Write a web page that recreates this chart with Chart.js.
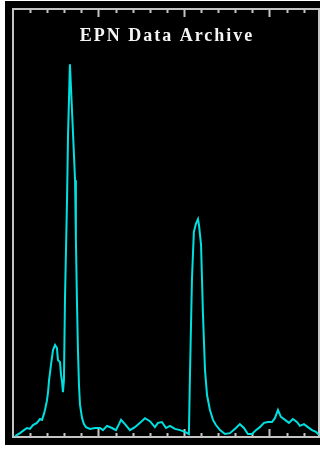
<!DOCTYPE html>
<html>
<head>
<meta charset="utf-8">
<script src="https://cdn.jsdelivr.net/npm/chart.js@4/dist/chart.umd.min.js"></script>
<style>
  html, body { margin: 0; padding: 0; background: #ffffff; }
  #wrap { position: absolute; left: 5px; top: 1px; width: 315px; height: 444px; background: #000000; }
  canvas { display: block; }
</style>
</head>
<body>
<div id="wrap"><canvas id="c" width="315" height="444"></canvas></div>
<script>
// Spectrum: channel position and counts (percent of full scale)
const channel = [
  0.12, 0.41, 0.64, 0.82, 0.99, 1.17, 1.40, 1.58, 1.70, 1.81, 1.87, 1.99, 2.05, 2.11, 2.22, 2.34,
  2.46, 2.57, 2.63, 2.75, 2.81, 2.87, 2.92, 2.98, 3.04, 3.16, 3.22, 3.33, 3.39, 3.51, 3.63, 3.68,
  3.74, 3.80, 3.86, 3.92, 4.04, 4.15, 4.27, 4.50, 4.80, 5.09, 5.26, 5.50, 5.79, 6.02, 6.20, 6.32,
  6.55, 6.84, 7.13, 7.43, 7.72, 8.01, 8.30, 8.48, 8.71, 8.95, 9.18, 9.47, 9.77, 10.06, 10.29, 10.35,
  10.47, 10.58, 10.70, 10.82, 10.88, 11.00, 11.11, 11.23, 11.35, 11.52, 11.70, 11.87, 12.11, 12.40, 12.69, 13.04,
  13.27, 13.51, 13.74, 13.98, 14.21, 14.44, 14.68, 14.91, 15.15, 15.32, 15.50, 15.67, 15.91, 16.14, 16.37, 16.61,
  16.78, 17.02, 17.25, 17.49, 17.72, 17.89
];
const counts = [
  0.2, 0.9, 1.6, 2.1, 1.9, 2.8, 3.3, 4.2, 4.0, 5.4, 6.3, 8.6, 10.5, 13.3, 16.8, 20.3,
  21.5, 20.8, 18.0, 17.5, 14.5, 12.9, 10.5, 13.3, 32.0, 55.4, 70.6, 87.1, 81.8, 71.0, 60.0, 46.0,
  32.0, 20.3, 12.1, 7.5, 4.4, 3.0, 2.3, 1.9, 2.1, 2.1, 1.6, 2.6, 2.1, 1.6, 3.0, 4.0,
  3.0, 1.6, 2.3, 3.3, 4.4, 3.7, 2.3, 3.3, 3.5, 2.1, 2.6, 1.9, 1.6, 1.2, 0.7, 14.0,
  37.1, 47.9, 49.8, 50.9, 49.5, 44.9, 29.0, 15.7, 9.8, 6.3, 4.0, 2.8, 1.6, 0.7, 0.9, 2.1,
  3.0, 2.1, 0.7, 0.7, 1.6, 2.3, 3.3, 3.5, 3.5, 4.4, 6.3, 4.7, 4.0, 3.3, 4.2, 3.5,
  2.6, 3.0, 2.3, 1.6, 1.2, 0.5
];
const titleText = 'EPN Data Archive';
const xMin = 0, xMax = 17.9, yMin = 0, yMax = 100;
const minorStep = 1, majorEvery = 5;

const frameColor = '#c4c4c4';

// Inward tick marks on the bottom and top edges of the frame
const inwardTicks = {
  id: 'inwardTicks',
  beforeDatasetsDraw(chart) {
    const { ctx, chartArea: a, scales: { x } } = chart;
    ctx.save();
    ctx.strokeStyle = frameColor;
    ctx.lineWidth = 2;
    for (let v = xMin + minorStep; v <= xMax; v += minorStep) {
      const px = Math.round(x.getPixelForValue(v)) + 0.5;
      const len = (Math.round(v) % majorEvery === 0) ? 8 : 4;
      ctx.beginPath();
      ctx.moveTo(px, a.bottom);
      ctx.lineTo(px, a.bottom - len);
      ctx.moveTo(px, a.top);
      ctx.lineTo(px, a.top + len);
      ctx.stroke();
    }
    ctx.restore();
  }
};

// Title written inside the frame, near its top
const innerTitle = {
  id: 'innerTitle',
  afterDraw(chart) {
    const { ctx, chartArea: a } = chart;
    ctx.save();
    ctx.fillStyle = '#f4f4f4';
    ctx.font = 'bold 18px "Liberation Serif", serif';
    ctx.letterSpacing = '2px';
    ctx.textAlign = 'center';
    ctx.textBaseline = 'middle';
    ctx.fillText(titleText, (a.left + a.right) / 2 + 1, a.top + 27);
    ctx.restore();
  }
};

const hiddenTicks = { display: false };
const edgeAxis = (pos) => ({
  type: 'linear',
  position: pos,
  display: true,
  ticks: hiddenTicks,
  grid: { display: true, drawOnChartArea: false, drawTicks: false },
  border: { display: true, color: frameColor, width: 2 }
});

new Chart(document.getElementById('c'), {
  type: 'line',
  data: {
    datasets: [{
      data: channel.map((c, i) => ({ x: c, y: counts[i] })),
      borderColor: '#00e0e0',
      borderWidth: 2,
      pointRadius: 0,
      tension: 0,
      fill: false
    }]
  },
  options: {
    responsive: false,
    animation: false,
    layout: { padding: { left: 8, top: 8, right: 1, bottom: 8 } },
    plugins: { legend: { display: false }, title: { display: false }, tooltip: { enabled: false } },
    scales: {
      x: Object.assign(edgeAxis('bottom'), { min: xMin, max: xMax }),
      x2: Object.assign(edgeAxis('top'), { min: xMin, max: xMax }),
      y: Object.assign(edgeAxis('left'), { min: yMin, max: yMax }),
      y2: Object.assign(edgeAxis('right'), { min: yMin, max: yMax })
    }
  },
  plugins: [inwardTicks, innerTitle]
});
</script>
</body>
</html>
